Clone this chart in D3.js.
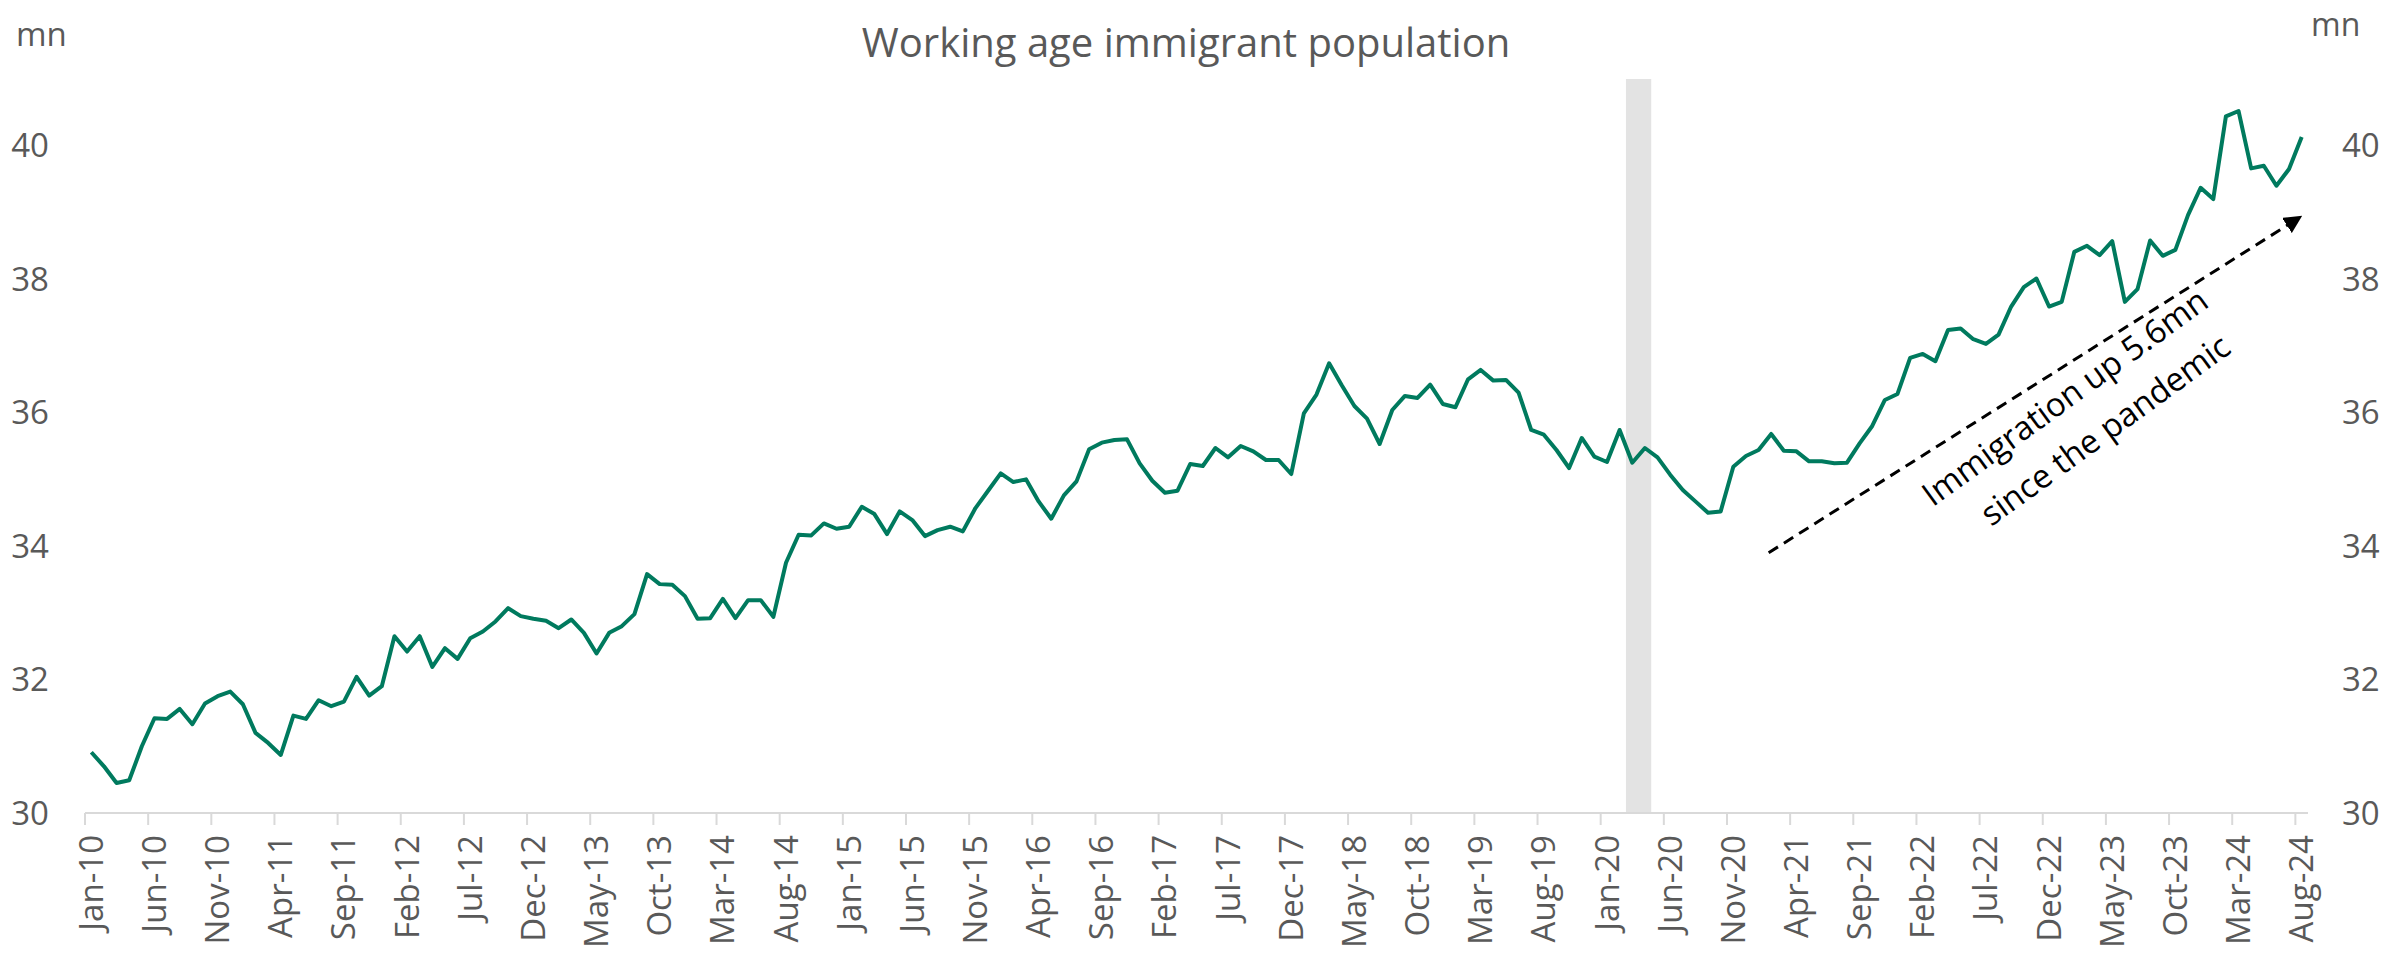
<!DOCTYPE html>
<html>
<head>
<meta charset="utf-8">
<script src="https://cdn.jsdelivr.net/npm/d3@7"></script>
<style>
  body { margin: 0; background: #fff; }
  svg text { font-family: "Segoe UI", "Open Sans", sans-serif; }
</style>
</head>
<body>
<div id="chart"></div>
<script>
// Working age immigrant population, monthly, mn
const v2010 = [30.91, 30.70, 30.45, 30.49, 31.00, 31.42, 31.41, 31.56, 31.33, 31.64, 31.75, 31.82];
const v2011 = [31.63, 31.20, 31.05, 30.87, 31.46, 31.41, 31.69, 31.60, 31.67, 32.04, 31.76, 31.90];
const v2012 = [32.65, 32.42, 32.65, 32.19, 32.47, 32.31, 32.62, 32.72, 32.87, 33.07, 32.95, 32.91];
const v2013 = [32.88, 32.77, 32.90, 32.70, 32.39, 32.70, 32.80, 32.98, 33.58, 33.43, 33.42, 33.25];
const v2014 = [32.91, 32.92, 33.21, 32.92, 33.19, 33.19, 32.94, 33.75, 34.17, 34.16, 34.34, 34.26];
const v2015 = [34.29, 34.59, 34.48, 34.18, 34.52, 34.39, 34.15, 34.24, 34.29, 34.22, 34.57, 34.83];
const v2016 = [35.09, 34.96, 35.00, 34.67, 34.41, 34.76, 34.97, 35.45, 35.55, 35.59, 35.60, 35.24];
const v2017 = [34.98, 34.80, 34.83, 35.23, 35.20, 35.47, 35.33, 35.50, 35.42, 35.29, 35.29, 35.08];
const v2018 = [35.99, 36.27, 36.74, 36.41, 36.10, 35.91, 35.53, 36.04, 36.25, 36.22, 36.42, 36.13];
const v2019 = [36.08, 36.50, 36.64, 36.48, 36.49, 36.30, 35.74, 35.67, 35.44, 35.17, 35.62, 35.34];
const v2020 = [35.26, 35.74, 35.25, 35.47, 35.33, 35.07, 34.84, 34.67, 34.50, 34.52, 35.19, 35.35];
const v2021 = [35.44, 35.68, 35.43, 35.42, 35.27, 35.27, 35.24, 35.25, 35.54, 35.80, 36.19, 36.28];
const v2022 = [36.82, 36.88, 36.77, 37.24, 37.26, 37.10, 37.03, 37.17, 37.59, 37.88, 38.01, 37.59];
const v2023 = [37.66, 38.41, 38.50, 38.36, 38.57, 37.66, 37.85, 38.58, 38.35, 38.44, 38.96, 39.37];
const v2024 = [39.20, 40.44, 40.52, 39.66, 39.70, 39.40, 39.65, 40.13];

const tickLabels = ["Jan-10","Jun-10","Nov-10","Apr-11","Sep-11","Feb-12","Jul-12","Dec-12","May-13",
  "Oct-13","Mar-14","Aug-14","Jan-15","Jun-15","Nov-15","Apr-16","Sep-16","Feb-17","Jul-17","Dec-17",
  "May-18","Oct-18","Mar-19","Aug-19","Jan-20","Jun-20","Nov-20","Apr-21","Sep-21","Feb-22","Jul-22",
  "Dec-22","May-23","Oct-23","Mar-24","Aug-24"];
const yTicks = [30, 32, 34, 36, 38, 40];
const pandemicMonths = ["Mar-20", "Apr-20"];
// dashed trend arrow, [month index, value]
const arrowFrom = [132.8, 33.9];
const arrowTo = [174.8, 38.92];
const noteLines = ["Immigration up 5.6mn", "since the pandemic"];
const notePos = [[156.79, 36.09], [159.99, 35.60]];

const values = [].concat(v2010, v2011, v2012, v2013, v2014, v2015, v2016, v2017,
  v2018, v2019, v2020, v2021, v2022, v2023, v2024);
const fmt = d3.timeFormat("%b-%y");
const months = d3.timeMonths(new Date(2010, 0, 1), new Date(2024, 8, 1)).map(fmt);
const data = months.map((m, i) => ({ month: m, value: values[i] }));

const width = 2384, height = 954;
const plot = { left: 85, right: 2308, top: 79, bottom: 813 };
const grey = "#595959";

const svg = d3.select("#chart").append("svg")
  .attr("width", width).attr("height", height);

const x = d3.scalePoint().domain(months).range([plot.left, plot.right]).padding(0.5);
const step = x.step();
const xi = d3.scaleLinear().domain([0, months.length - 1])
  .range([x(months[0]), x(months[months.length - 1])]);
const y = d3.scaleLinear().domain([30, 41]).range([plot.bottom, plot.top]);

// pandemic shading
svg.append("rect")
  .attr("x", x(pandemicMonths[0]) - step / 2)
  .attr("y", y(41))
  .attr("width", x(pandemicMonths[1]) - x(pandemicMonths[0]) + step)
  .attr("height", y(30) - y(41))
  .attr("fill", "#e3e3e3");

// x axis
const xAxis = svg.append("g").attr("transform", `translate(0,${plot.bottom})`);
xAxis.append("line")
  .attr("x1", plot.left).attr("x2", plot.right)
  .attr("stroke", "#d9d9d9").attr("stroke-width", 2);
xAxis.selectAll("line.tick").data(tickLabels).enter().append("line")
  .attr("class", "tick")
  .attr("x1", d => x(d) - step / 2).attr("x2", d => x(d) - step / 2)
  .attr("y1", 0).attr("y2", 12)
  .attr("stroke", "#d9d9d9").attr("stroke-width", 2);
xAxis.selectAll("text").data(tickLabels).enter().append("text")
  .attr("transform", d => `translate(${x(d)},22) rotate(-90)`)
  .attr("text-anchor", "end")
  .attr("dy", "0.35em")
  .attr("fill", grey)
  .style("font-size", "33px")
  .text(d => d);

// y tick labels on both sides
svg.selectAll("text.yl").data(yTicks).enter().append("text")
  .attr("class", "yl")
  .attr("x", 49).attr("y", d => y(d)).attr("dy", "0.35em")
  .attr("text-anchor", "end").attr("fill", grey)
  .style("font-size", "33px").text(d => d);
svg.selectAll("text.yr").data(yTicks).enter().append("text")
  .attr("class", "yr")
  .attr("x", 2342).attr("y", d => y(d)).attr("dy", "0.35em")
  .attr("text-anchor", "start").attr("fill", grey)
  .style("font-size", "33px").text(d => d);

svg.append("text").attr("x", 16).attr("y", 46).attr("fill", grey)
  .style("font-size", "33px").text("mn");
svg.append("text").attr("x", 2311).attr("y", 36).attr("fill", grey)
  .style("font-size", "32px").text("mn");

// title
svg.append("text")
  .attr("x", 1186).attr("y", 57)
  .attr("text-anchor", "middle").attr("fill", grey)
  .style("font-size", "40px")
  .text("Working age immigrant population");

// the series
const line = d3.line().x(d => x(d.month)).y(d => y(d.value));
svg.append("path").datum(data)
  .attr("d", line)
  .attr("fill", "none")
  .attr("stroke", "#007a5e")
  .attr("stroke-width", 4)
  .attr("stroke-linejoin", "round");

// arrow annotation
svg.append("defs").append("marker")
  .attr("id", "arrowhead")
  .attr("viewBox", "0 -5 10 10")
  .attr("refX", 8).attr("refY", 0)
  .attr("markerWidth", 6).attr("markerHeight", 6)
  .attr("markerUnits", "strokeWidth")
  .attr("orient", "auto")
  .append("path").attr("d", "M0,-5L10,0L0,5Z").attr("fill", "#000");

svg.append("line")
  .attr("x1", xi(arrowFrom[0])).attr("y1", y(arrowFrom[1]))
  .attr("x2", xi(arrowTo[0])).attr("y2", y(arrowTo[1]))
  .attr("stroke", "#000").attr("stroke-width", 3)
  .attr("stroke-dasharray", "11,7")
  .attr("marker-end", "url(#arrowhead)");

svg.selectAll("text.note").data(noteLines).enter().append("text")
  .attr("class", "note")
  .attr("transform", (d, i) => `translate(${xi(notePos[i][0])},${y(notePos[i][1])}) rotate(-36)`)
  .attr("text-anchor", "middle")
  .attr("fill", "#000")
  .style("font-size", "33px")
  .text(d => d);
</script>
</body>
</html>
